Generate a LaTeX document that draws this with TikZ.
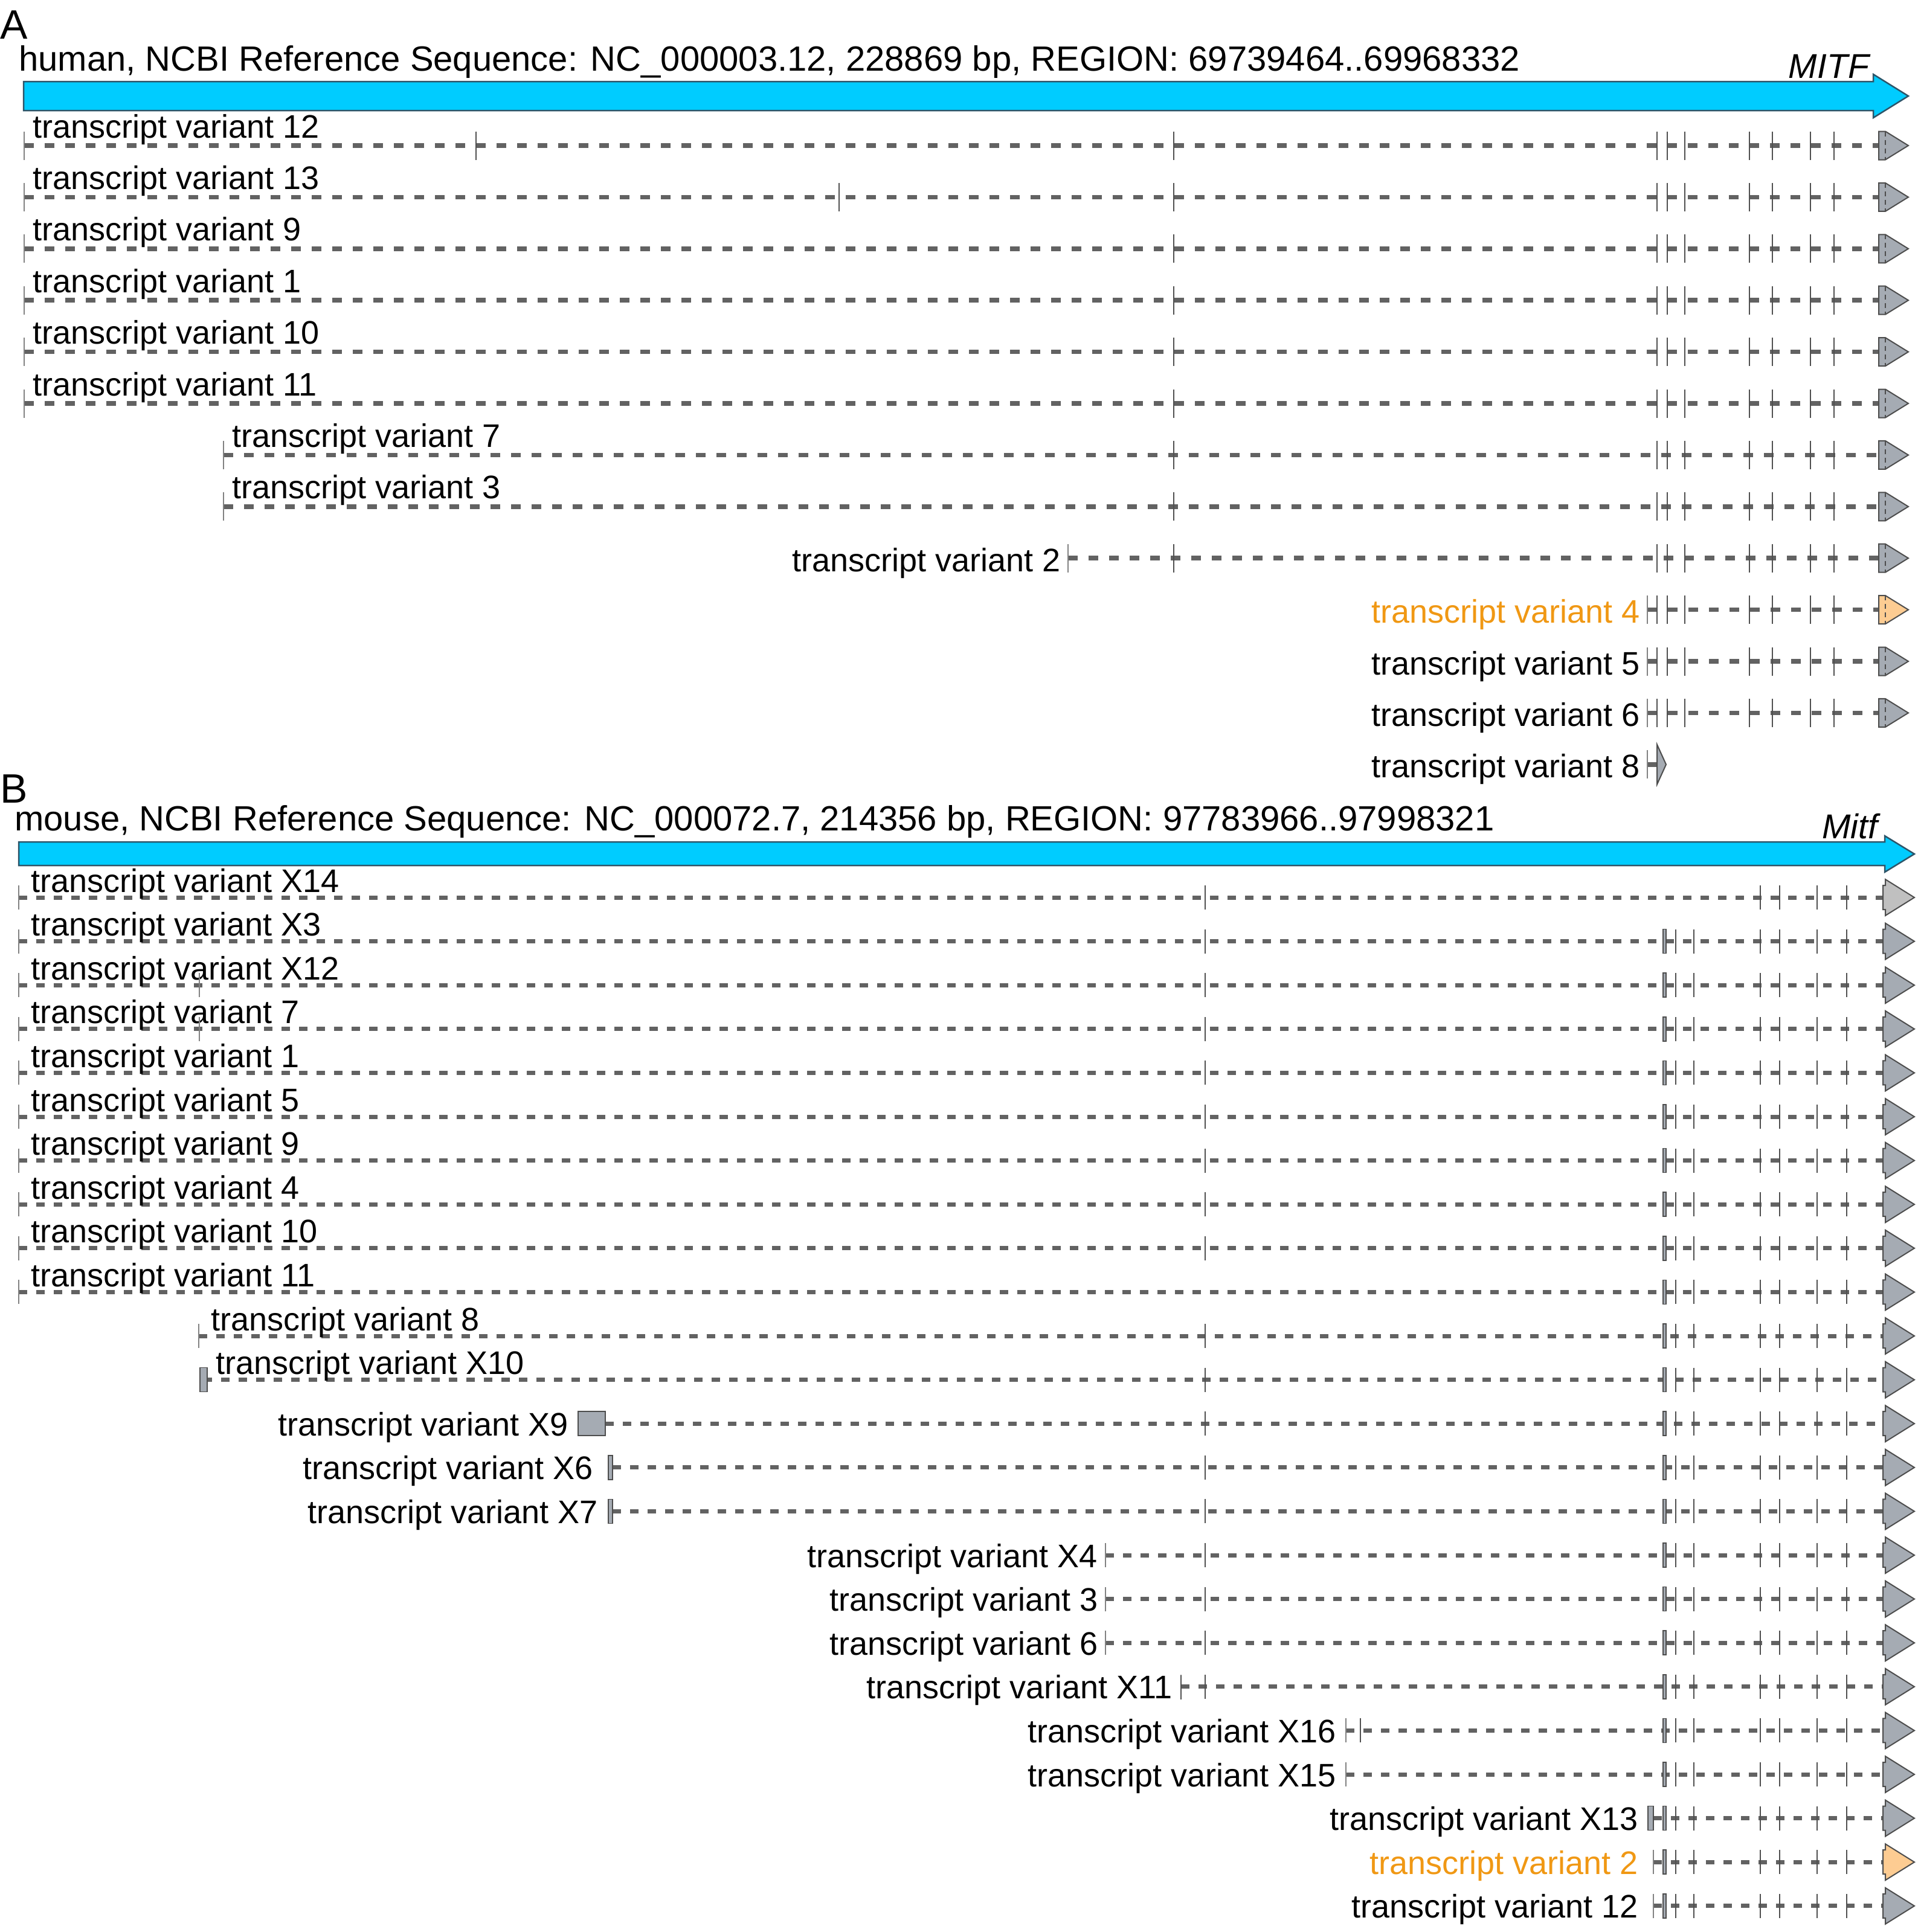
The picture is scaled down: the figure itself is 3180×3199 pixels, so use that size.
\documentclass[tikz,border=0pt]{standalone}
\usepackage{fontspec}
\setmainfont{Liberation Sans}
\definecolor{genecyan}{RGB}{0,204,255}
\definecolor{geneedge}{RGB}{45,85,105}
\definecolor{introngray}{RGB}{98,98,98}
\definecolor{tickgray}{RGB}{80,80,80}
\definecolor{startgray}{RGB}{130,130,130}
\definecolor{exongray}{RGB}{165,171,179}
\definecolor{exonedge}{RGB}{77,77,77}
\definecolor{lightexon}{RGB}{192,192,192}
\definecolor{hiorange}{RGB}{240,152,20}
\definecolor{hifill}{RGB}{253,204,146}
\tikzset{
  lbl/.style={inner sep=0pt,font=\fontsize{54}{60}\selectfont},
  ttl/.style={inner sep=0pt,font=\fontsize{58}{64}\selectfont},
  gname/.style={inner sep=0pt,font=\fontsize{57}{64}\selectfont\itshape},
  panel/.style={inner sep=0pt,font=\fontsize{68}{76}\selectfont},
  intronA/.style={introngray,line width=7.5pt,dash pattern=on 16pt off 18pt},
  intronB/.style={introngray,line width=7pt,dash pattern=on 14pt off 15pt},
  exontick/.style={tickgray,line width=2.5pt},
  starttick/.style={startgray,line width=2pt},
  exonbox/.style={fill=exongray,draw=exonedge,line width=2pt},
  genearrow/.style={fill=genecyan,draw=geneedge,line width=2.5pt}
}
\begin{document}
\begin{tikzpicture}[x=1pt,y=-1pt]
\useasboundingbox (0,0) rectangle (3180,3199);

% A: human MITF
\node[panel,anchor=base west] (pA) at (0,64) {A};
\node[ttl,anchor=base west] (tA) at (31,117) {human, NCBI Reference Sequence: NC\_000003.12, 228869 bp, REGION: 69739464..69968332};
\draw[genearrow] (39,135) -- (3101,135) -- (3101,123) -- (3159,159) -- (3101,195) -- (3101,183) -- (39,183) -- cycle;
\node[gname,anchor=base east] (gA) at (3094,129) {MITF};

\foreach \lab/\st [count=\k from 0] in {12/40,13/40,9/40,1/40,10/40,11/40,7/370,3/370}{
  \pgfmathsetmacro\y{241+85.4*\k}
  \draw[intronA] (\st,\y) -- (3110,\y);
  \draw[starttick] (\st,\y-23.5) -- (\st,\y+23.5);
  \node[lbl,anchor=base west] (tvA\lab) at (\st+14,\y-13) {transcript variant \lab};
}
\foreach \lab/\st/\en/\k/\col in {2/1768/3110/8/black,4/2727/3110/9/hiorange,5/2727/3110/10/black,6/2727/3110/11/black,8/2727/2743/12/black}{
  \pgfmathsetmacro\y{241+85.4*\k}
  \draw[intronA] (\st,\y) -- (\en,\y);
  \draw[starttick] (\st,\y-23.5) -- (\st,\y+23.5);
  \node[lbl,anchor=base east,text=\col] (tvA\lab) at (\st-12,\y+22) {transcript variant \lab};
}
\draw[exontick] (788,217.5) -- ++(0,47);
\draw[exontick] (1389,302.9) -- ++(0,47);
\foreach \k in {0,...,8}
  \draw[exontick] (1943,241+85.4*\k-23.5) -- ++(0,47);
\foreach \k/\fc in {0/exongray,1/exongray,2/exongray,3/exongray,4/exongray,5/exongray,6/exongray,7/exongray,8/exongray,9/hifill,10/exongray,11/exongray}{
  \pgfmathsetmacro\y{241+85.4*\k}
  \foreach \x in {2743,2760,2789,2896,2934,2997,3036}
    \draw[exontick] (\x,\y-23.5) -- (\x,\y+23.5);
  \draw[exonbox,fill=\fc] (3110,\y-23.5) -- (3121,\y-23.5) -- (3159,\y) -- (3121,\y+23.5) -- (3110,\y+23.5) -- cycle;
  \draw[exonedge,line width=1.5pt,dash pattern=on 8pt off 6pt] (3121,\y-23.5) -- (3121,\y+23.5);
}
\draw[exonbox] (2743,1232.8) -- (2758,1265.8) -- (2743,1298.8) -- cycle;

% B: mouse Mitf
\node[panel,anchor=base west] (pB) at (0,1329) {B};
\node[ttl,anchor=base west] (tB) at (24,1375) {mouse, NCBI Reference Sequence: NC\_000072.7, 214356 bp, REGION: 97783966..97998321};
\draw[genearrow] (31,1394) -- (3120,1394) -- (3120,1384) -- (3169,1414) -- (3120,1444) -- (3120,1433) -- (31,1433) -- cycle;
\node[gname,anchor=base east] (gB) at (3108,1388) {Mitf};

\foreach \lab/\st [count=\k from 0] in {X14/31,X3/31,X12/31,7/31,1/31,5/31,9/31,4/31,10/31,11/31,8/329,X10/337}{
  \pgfmathsetmacro\y{1486+72.6*\k}
  \draw[intronB] (\st,\y) -- (3117,\y);
  \draw[starttick] (\st,\y-20) -- (\st,\y+20);
  \node[lbl,anchor=base west] (tvB\lab) at (\st+20,\y-9) {transcript variant \lab};
}
\foreach \lab/\st/\lx/\k/\col in {X9/1002/941/12/black,X6/1014/982/13/black,X7/1014/990/14/black,X4/1830/1817/15/black,3/1830/1818/16/black,6/1830/1818/17/black,X11/1955/1941/18/black,X16/2228/2212/19/black,X15/2228/2212/20/black,X13/2737/2712/21/black,2/2737/2712/22/hiorange,12/2737/2712/23/black}{
  \pgfmathsetmacro\y{1486+72.6*\k}
  \draw[intronB] (\st,\y) -- (3117,\y);
  \draw[starttick] (\st,\y-20) -- (\st,\y+20);
  \node[lbl,anchor=base east,text=\col] (tvB\lab) at (\lx,\y+20) {transcript variant \lab};
}
\draw[exonbox,line width=1.5pt] (331,2264.6) rectangle (343,2304.6);
\draw[exonbox] (957,2337.2) rectangle (1002,2377.2);
\draw[exonbox,line width=1.5pt] (1007,2409.8) rectangle (1014,2449.8);
\draw[exonbox,line width=1.5pt] (1007,2482.4) rectangle (1014,2522.4);
\draw[exonbox,line width=1.5pt] (2728,2990.6) rectangle (2737,3030.6);
\draw[exontick] (1955,2773.8) -- ++(0,40);
\foreach \k in {2,3}
  \draw[starttick] (330,1486+72.6*\k-20) -- ++(0,40);
\draw[exontick] (2252,2845.4) -- ++(0,40);
\foreach \k in {0,...,8,10,11,12,13,14,15,16,17,18}
  \draw[exontick] (1995,1486+72.6*\k-20) -- ++(0,40);
\foreach \k/\fc in {0/lightexon,1/exongray,2/exongray,3/exongray,4/exongray,5/exongray,6/exongray,7/exongray,8/exongray,9/exongray,10/exongray,11/exongray,12/exongray,13/exongray,14/exongray,15/exongray,16/exongray,17/exongray,18/exongray,19/exongray,20/exongray,21/exongray,22/hifill,23/exongray}{
  \pgfmathsetmacro\y{1486+72.6*\k}
  \foreach \x in {2914,2946,3008,3057}
    \draw[exontick] (\x,\y-20) -- (\x,\y+20);
  \ifnum\k>0
    \draw[exonbox,line width=1.5pt] (2753,\y-20) rectangle (2758,\y+20);
    \foreach \x in {2774,2804}
      \draw[exontick] (\x,\y-20) -- (\x,\y+20);
  \fi
  \draw[exonbox,fill=\fc] (3117,\y-20) -- (3121,\y-20) -- (3121,\y-30) -- (3169,\y) -- (3121,\y+30) -- (3121,\y+20) -- (3117,\y+20) -- cycle;
}
\end{tikzpicture}
\end{document}
